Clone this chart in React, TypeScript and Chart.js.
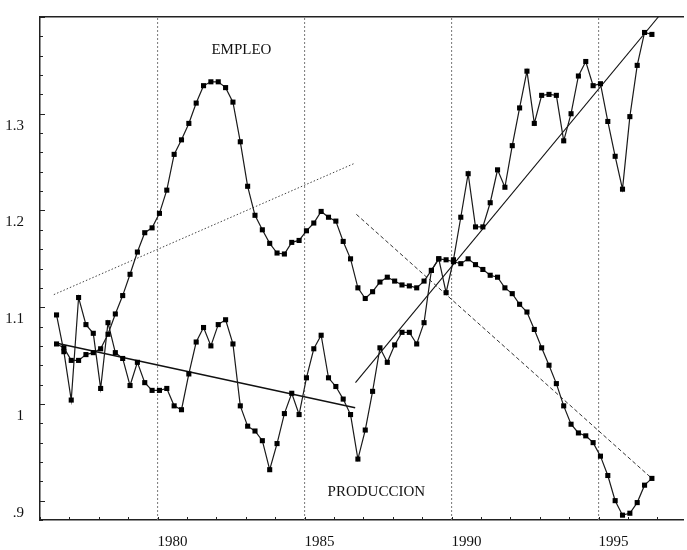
import React, { useEffect, useRef } from "react";
import { Chart, registerables } from "chart.js";

Chart.register(...registerables);

// ---- data (quarterly, from 1976 Q3) ----
const FIRST_YEAR = 1976;
const FIRST_QUARTER = 3;

const empleo = [
  1.062, 1.058, 1.045, 1.045, 1.051, 1.053, 1.057, 1.072, 1.093, 1.112,
  1.134, 1.157, 1.177, 1.182, 1.197, 1.221, 1.258, 1.273, 1.29, 1.311,
  1.329, 1.333, 1.333, 1.327, 1.312, 1.271, 1.225, 1.195, 1.18, 1.166,
  1.156, 1.155, 1.167, 1.169, 1.179, 1.187, 1.199, 1.193, 1.189, 1.168,
  1.15, 1.12, 1.109, 1.116, 1.126, 1.131, 1.127, 1.123, 1.122, 1.12,
  1.127, 1.138, 1.15, 1.149, 1.147, 1.145, 1.15, 1.144, 1.139, 1.133,
  1.131, 1.12, 1.114, 1.103, 1.095, 1.077, 1.058, 1.04, 1.021, 0.998,
  0.979, 0.97, 0.967, 0.96, 0.946, 0.926, 0.9, 0.885, 0.887, 0.898,
  0.916, 0.923,
];

const produccion = [
  1.092, 1.054, 1.004, 1.11, 1.082, 1.073, 1.016, 1.084, 1.053, 1.047,
  1.019, 1.043, 1.022, 1.014, 1.014, 1.016, 0.998, 0.994, 1.031, 1.064,
  1.079, 1.06, 1.082, 1.087, 1.062, 0.998, 0.977, 0.972, 0.962, 0.932,
  0.959, 0.99, 1.011, 0.989, 1.027, 1.057, 1.071, 1.027, 1.018, 1.005,
  0.989, 0.943, 0.973, 1.013, 1.058, 1.043, 1.061, 1.074, 1.074, 1.062,
  1.084, 1.138, 1.15, 1.115, 1.149, 1.193, 1.238, 1.183, 1.183, 1.208,
  1.242, 1.224, 1.267, 1.306, 1.344, 1.29, 1.319, 1.32, 1.319, 1.272,
  1.3, 1.339, 1.354, 1.329, 1.331, 1.292, 1.256, 1.222, 1.297, 1.35,
  1.384, 1.382,
];

// trend lines: [year, value] endpoints
const trendEmpleo1 = [[1976.47, 1.113], [1986.72, 1.249]];
const trendProduccion1 = [[1976.54, 1.063], [1986.72, 0.996]];
const trendEmpleo2 = [[1986.76, 1.196], [1996.81, 0.923]];
const trendProduccion2 = [[1986.73, 1.022], [1997.03, 1.4]];

const breakYears = [1980, 1985, 1990, 1995];
const labeledYears = [1980, 1985, 1990, 1995];
const yLabels: Record<number, string> = { 90: ".9", 100: "1", 110: "1.1", 120: "1.2", 130: "1.3" };
const seriesNames = ["EMPLEO", "PRODUCCION"];

const X_MIN = 1976;
const X_MAX = 1997.87;
const Y_MIN = 0.88;
const Y_MAX = 1.4;

const FONT = '"Liberation Serif", "Times New Roman", serif';

const quarterX = (i: number) => FIRST_YEAR + (FIRST_QUARTER - 1) / 4 + 1 / 16 + i / 4;
const toPts = (arr: number[]) => arr.map((v, i) => ({ x: quarterX(i), y: v }));
const segPts = (seg: number[][]) => seg.map(([x, y]) => ({ x, y }));

const decorPlugin = {
  id: "decor",
  afterDatasetsDraw(chart: any) {
    const { ctx, chartArea, scales } = chart;
    const xs = scales.x;
    const ys = scales.y;
    ctx.save();
    ctx.strokeStyle = "#222";
    ctx.lineWidth = 1;
    ctx.beginPath();
    for (let yr = Math.ceil(X_MIN); yr <= X_MAX; yr++) {
      const px = Math.round(xs.getPixelForValue(yr)) + 0.5;
      ctx.moveTo(px, chartArea.bottom);
      ctx.lineTo(px, chartArea.bottom - 3);
    }
    ys.ticks.forEach((t: any) => {
      const r = Math.round(t.value * 100);
      const py = Math.round(ys.getPixelForValue(t.value)) + 0.5;
      const major = r % 10 === 0;
      ctx.moveTo(chartArea.left, py);
      ctx.lineTo(chartArea.left + (major ? 5 : 3), py);
    });
    ctx.stroke();

    ctx.fillStyle = "#111";
    ctx.font = `15px ${FONT}`;
    ctx.textAlign = "center";
    ctx.textBaseline = "middle";
    ctx.fillText(seriesNames[0], xs.getPixelForValue(1982.85), ys.getPixelForValue(1.366));
    ctx.fillText(seriesNames[1], xs.getPixelForValue(1987.44), ys.getPixelForValue(0.909));
    ctx.restore();
  },
};

export default function App() {
  const ref = useRef<HTMLCanvasElement | null>(null);

  useEffect(() => {
    if (!ref.current) return;
    const seriesStyle = {
      borderColor: "#1a1a1a",
      borderWidth: 1.2,
      pointStyle: "rect",
      pointRadius: 3.6,
      pointBackgroundColor: "#000",
      pointBorderWidth: 0,
      tension: 0,
      order: 1,
    };
    const datasets: any[] = [
      ...breakYears.map((yr) => ({
        data: [{ x: yr, y: Y_MIN }, { x: yr, y: Y_MAX }],
        borderColor: "#777",
        borderWidth: 1,
        borderDash: [2, 2],
        pointRadius: 0,
        order: 10,
      })),
      { data: segPts(trendEmpleo1), borderColor: "#444", borderWidth: 1, borderDash: [1.5, 2], pointRadius: 0, order: 5 },
      { data: segPts(trendProduccion1), borderColor: "#111", borderWidth: 1.4, pointRadius: 0, order: 5 },
      { data: segPts(trendEmpleo2), borderColor: "#333", borderWidth: 1, borderDash: [4, 2.5], pointRadius: 0, order: 5 },
      { data: segPts(trendProduccion2), borderColor: "#111", borderWidth: 1.1, pointRadius: 0, order: 5 },
      { label: seriesNames[0], data: toPts(empleo), ...seriesStyle },
      { label: seriesNames[1], data: toPts(produccion), ...seriesStyle },
    ];

    const chart = new Chart(ref.current, {
      type: "line",
      data: { datasets },
      options: {
        responsive: false,
        animation: false,
        layout: { padding: 0 },
        plugins: { legend: { display: false }, tooltip: { enabled: false } },
        scales: {
          x: {
            type: "linear",
            position: "bottom",
            min: X_MIN,
            max: X_MAX,
            grid: { display: false },
            border: { display: true, color: "#222", width: 1.5 },
            ticks: {
              stepSize: 1,
              autoSkip: false,
              includeBounds: false,
              maxRotation: 0,
              labelOffset: 14.8,
              padding: 5,
              color: "#111",
              font: { family: FONT, size: 15 },
              callback: (v: any) => (labeledYears.includes(Number(v)) ? String(v) : ""),
            },
            afterFit: (s: any) => {
              s.height = 30;
            },
          },
          x2: {
            type: "linear",
            position: "top",
            min: X_MIN,
            max: X_MAX,
            grid: { display: false },
            border: { display: true, color: "#222", width: 1.5 },
            ticks: { display: false },
            afterFit: (s: any) => {
              s.height = 12;
            },
          },
          y: {
            type: "linear",
            position: "left",
            min: Y_MIN,
            max: Y_MAX,
            grid: { display: false },
            border: { display: true, color: "#222", width: 1.5 },
            ticks: {
              stepSize: 0.02,
              autoSkip: false,
              labelOffset: 12,
              padding: 8,
              color: "#111",
              font: { family: FONT, size: 15 },
              callback: (v: any) => {
                const r = Math.round(Number(v) * 100);
                return yLabels[r] ?? "";
              },
            },
            afterFit: (s: any) => {
              s.width = 40;
            },
          },
        },
      },
      plugins: [decorPlugin],
    });
    return () => chart.destroy();
  }, []);

  return (
    <div style={{ position: "absolute", left: 0, top: 0, width: 687, height: 550, background: "#fff" }}>
      <canvas ref={ref} width={687} height={550} />
    </div>
  );
}
